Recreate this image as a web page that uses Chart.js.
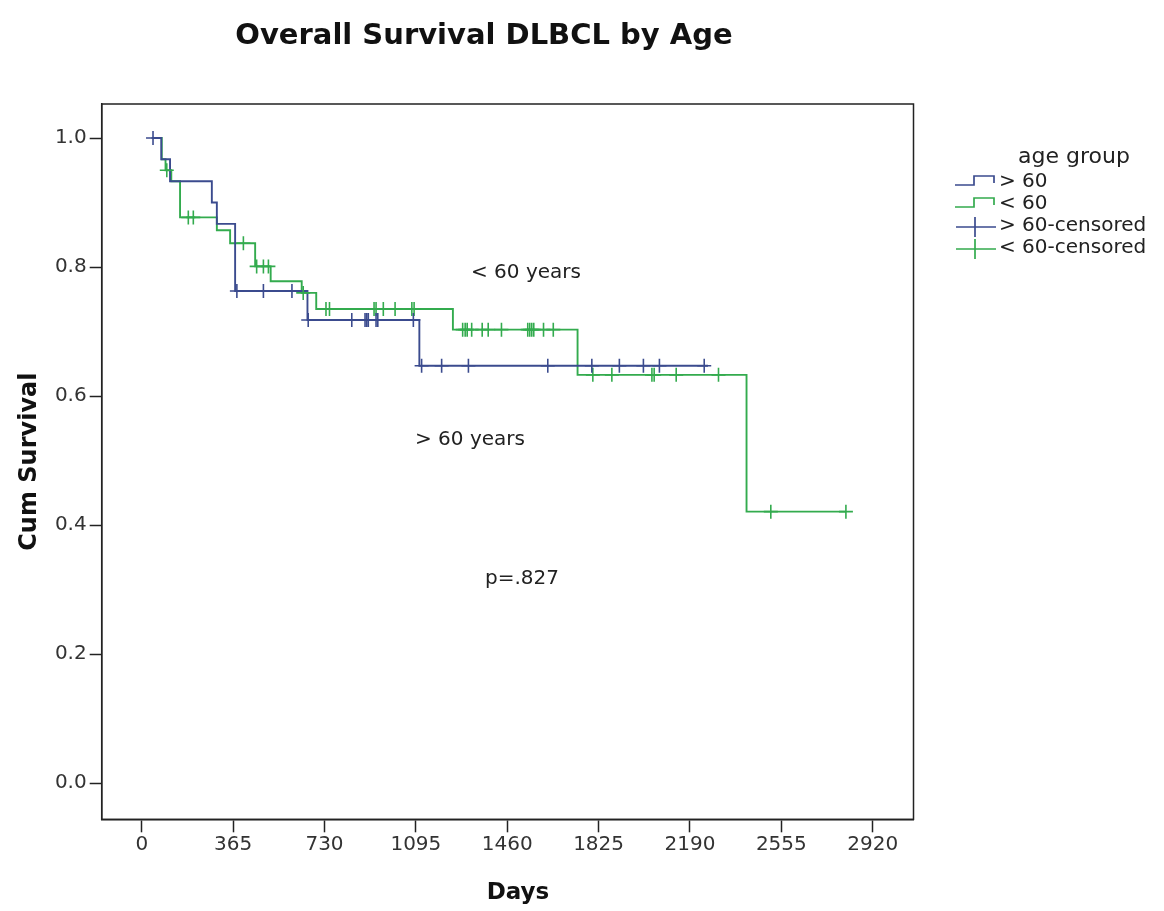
<!DOCTYPE html>
<html>
<head>
<meta charset="utf-8">
<title>Overall Survival DLBCL by Age</title>
<script src="https://cdn.jsdelivr.net/npm/chart.js@4.4.1/dist/chart.umd.min.js"></script>
<style>
  html, body { margin: 0; padding: 0; background: #fff; }
  #wrap { width: 1164px; height: 911px; position: relative; }
</style>
</head>
<body>
<div id="wrap"><canvas id="km"></canvas></div>
<script>
// Kaplan-Meier steps: day of each drop and survival after it
const overDays  = [40, 78, 113, 280, 300, 373, 662, 1109, 2262];
const overSurv  = [1.0, 0.967, 0.933, 0.900, 0.867, 0.763, 0.718, 0.647, 0.647];
const underDays = [40, 80, 95, 118, 153, 300, 353, 453, 515, 639, 697, 1243, 1741, 2416, 2813];
const underSurv = [1.0, 0.967, 0.950, 0.933, 0.877, 0.857, 0.837, 0.801, 0.778, 0.760, 0.735, 0.703, 0.633, 0.421, 0.421];

// censored cases (the little + marks)
const overCensDays = [45, 380, 486, 600, 665, 839, 892, 899, 905, 936, 943, 1085,
  1118, 1198, 1305, 1622, 1798, 1908, 2004, 2068, 2247];
const overCensSurv = [1.0, 0.763, 0.763, 0.763, 0.718, 0.718, 0.718, 0.718, 0.718, 0.718, 0.718, 0.718,
  0.647, 0.647, 0.647, 0.647, 0.647, 0.647, 0.647, 0.647, 0.647];
const underCensDays = [100, 186, 206, 406, 459, 486, 506, 645, 736, 750, 928, 936, 965, 1012, 1079, 1088,
  1282, 1292, 1300, 1318, 1360, 1384, 1437, 1542, 1550, 1558, 1566, 1605, 1644,
  1802, 1878, 2038, 2047, 2135, 2304, 2513, 2813];
const underCensSurv = [0.950, 0.877, 0.877, 0.837, 0.801, 0.801, 0.801, 0.760,
  0.735, 0.735, 0.735, 0.735, 0.735, 0.735, 0.735, 0.735,
  0.703, 0.703, 0.703, 0.703, 0.703, 0.703, 0.703, 0.703, 0.703, 0.703, 0.703, 0.703, 0.703,
  0.633, 0.633, 0.633, 0.633, 0.633, 0.633, 0.421, 0.421];

const xTicks = [0, 365, 730, 1095, 1460, 1825, 2190, 2555, 2920];
const yTicks = [0.0, 0.2, 0.4, 0.6, 0.8, 1.0];
const legendLabels = ['> 60', '< 60', '> 60-censored', '< 60-censored'];

const BLUE = '#3b4b8e';
const GREEN = '#33ab4e';
const INK = '#222';

function pts(xs, ys) { return xs.map((x, i) => ({ x: x, y: ys[i] })); }

// frame, title, in-plot notes and the SPSS style legend
const decor = {
  id: 'decor',
  afterDraw(chart) {
    const ctx = chart.ctx;
    const a = chart.chartArea;
    ctx.save();
    ctx.strokeStyle = INK;
    ctx.lineWidth = 1.5;
    ctx.strokeRect(a.left, a.top, a.right - a.left, a.bottom - a.top);

    ctx.fillStyle = '#111';
    ctx.textBaseline = 'middle';
    ctx.textAlign = 'center';
    ctx.font = 'bold 29px "DejaVu Sans"';
    ctx.fillText('Overall Survival DLBCL by Age', 484, 36);
    // x axis title sits a bit right of the plot centre in the original
    ctx.font = 'bold 23px "DejaVu Sans"';
    ctx.fillText('Days', 518, 893);

    ctx.textAlign = 'left';
    ctx.fillStyle = '#222';
    ctx.font = '20px "DejaVu Sans"';
    ctx.fillText('< 60 years', 471, 273);
    ctx.fillText('> 60 years', 415, 440);
    ctx.fillText('p=.827', 485, 579);

    // legend
    ctx.textAlign = 'center';
    ctx.font = '22px "DejaVu Sans"';
    ctx.fillText('age group', 1074, 157);
    ctx.textAlign = 'left';
    ctx.font = '20px "DejaVu Sans"';
    const rowY = [182, 204, 226, 248];
    const cols = [BLUE, GREEN, BLUE, GREEN];
    legendLabels.forEach((lab, i) => {
      const y = rowY[i];
      ctx.strokeStyle = cols[i];
      ctx.lineWidth = 1.7;
      ctx.beginPath();
      if (i < 2) {
        ctx.moveTo(955, y + 3); ctx.lineTo(974, y + 3); ctx.lineTo(974, y - 6);
        ctx.lineTo(994, y - 6); ctx.lineTo(994, y + 1);
      } else {
        ctx.moveTo(956, y + 1); ctx.lineTo(996, y + 1);
        ctx.moveTo(975, y - 9); ctx.lineTo(975, y + 11);
      }
      ctx.stroke();
      ctx.fillStyle = '#222';
      ctx.fillText(lab, 999, y);
    });
    ctx.restore();
  }
};

new Chart(document.getElementById('km'), {
  type: 'line',
  data: {
    datasets: [
      { label: '> 60', data: pts(overDays, overSurv), borderColor: BLUE, borderWidth: 1.9,
        stepped: 'before', pointRadius: 0, fill: false, order: 1 },
      { label: '< 60', data: pts(underDays, underSurv), borderColor: GREEN, borderWidth: 1.9,
        stepped: 'before', pointRadius: 0, fill: false, order: 2 },
      { label: '> 60-censored', data: pts(overCensDays, overCensSurv), showLine: false,
        pointStyle: 'cross', pointRadius: 7, pointBorderWidth: 1.6, borderColor: BLUE, order: 0 },
      { label: '< 60-censored', data: pts(underCensDays, underCensSurv), showLine: false,
        pointStyle: 'cross', pointRadius: 7, pointBorderWidth: 1.6, borderColor: GREEN, order: 0 }
    ]
  },
  options: {
    responsive: true,
    maintainAspectRatio: false,
    animation: false,
    layout: { padding: { left: 0, top: 104, right: 250.5, bottom: 0 } },
    plugins: { legend: { display: false }, tooltip: { enabled: false }, title: { display: false } },
    scales: {
      x: {
        type: 'linear', min: -160, max: 3083,
        afterBuildTicks: s => { s.ticks = xTicks.map(v => ({ value: v })); },
        afterFit: s => { s.height = 91.7; },
        ticks: { color: '#333', font: { family: 'DejaVu Sans', size: 20 }, padding: 0,
          maxRotation: 0, autoSkip: false, callback: v => String(v) },
        grid: { drawOnChartArea: false, tickLength: 13, color: INK, tickWidth: 1.5 },
        border: { color: INK, width: 1.5 },
        title: { display: false }
      },
      y: {
        type: 'linear', min: -0.0558, max: 1.0527,
        afterBuildTicks: s => { s.ticks = yTicks.map(v => ({ value: v })); },
        afterFit: s => { s.width = 101.7; },
        ticks: { color: '#333', font: { family: 'DejaVu Sans', size: 20 }, padding: 3,
          autoSkip: false, callback: v => v.toFixed(1) },
        grid: { drawOnChartArea: false, tickLength: 12, color: INK, tickWidth: 1.5 },
        border: { color: INK, width: 1.5 },
        title: { display: true, text: 'Cum Survival', color: '#111',
          font: { family: 'DejaVu Sans', size: 24, weight: 'bold' }, padding: { top: 15, bottom: 0 } }
      }
    }
  },
  plugins: [decor]
});
</script>
</body>
</html>
